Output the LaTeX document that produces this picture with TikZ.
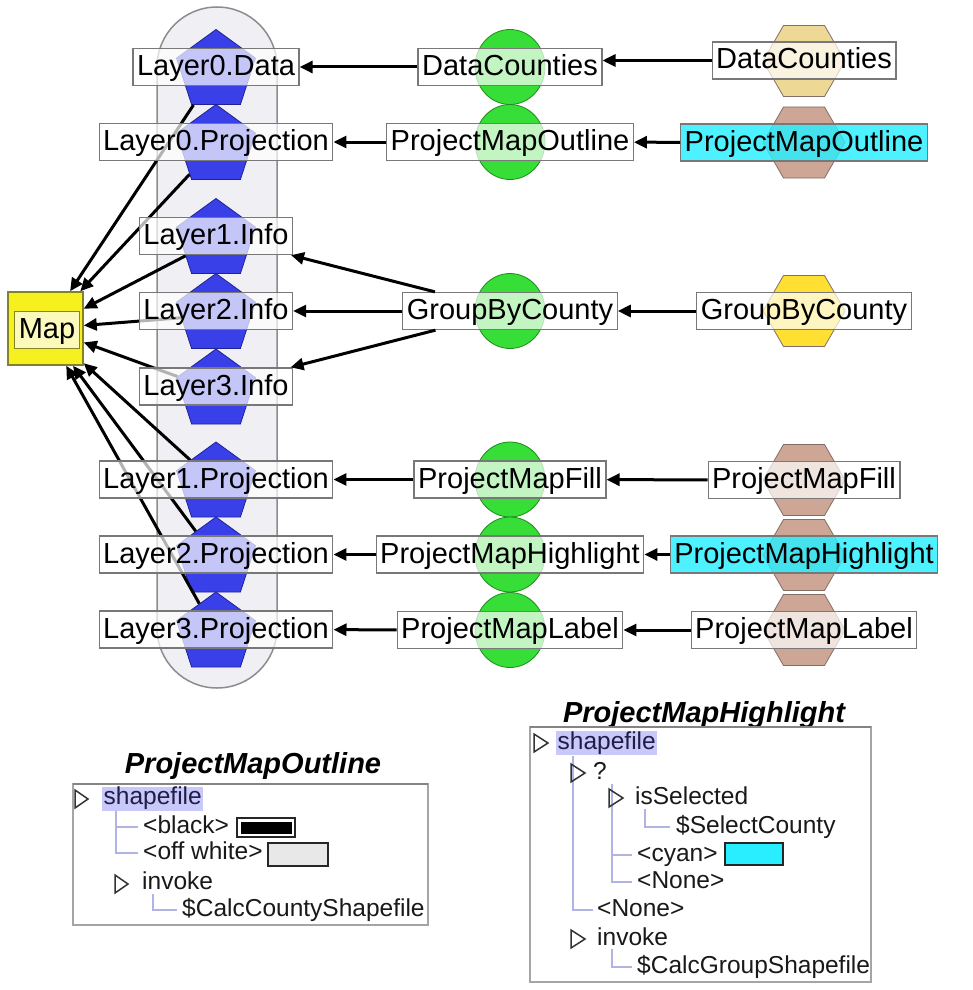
\documentclass[tikz,border=0pt]{standalone}
\usepackage{fontspec}
\setmainfont{Liberation Sans}
\usetikzlibrary{shapes.geometric,arrows.meta}
\definecolor{pblue}{RGB}{58,64,232}
\definecolor{pbluedk}{RGB}{30,34,150}
\definecolor{cgreen}{RGB}{55,222,55}
\definecolor{cgreendk}{RGB}{30,140,30}
\definecolor{hkhaki}{RGB}{238,216,150}
\definecolor{hrosy}{RGB}{206,166,150}
\definecolor{hgold}{RGB}{255,224,50}
\definecolor{hdraw}{RGB}{130,110,100}
\definecolor{cyanbox}{RGB}{40,238,255}
\definecolor{mapyel}{RGB}{246,240,30}
\definecolor{mapdk}{RGB}{130,130,40}
\definecolor{capfill}{RGB}{240,240,244}
\definecolor{capdraw}{RGB}{140,140,140}
\definecolor{boxdraw}{RGB}{120,120,120}
\definecolor{treeline}{RGB}{176,180,228}
\definecolor{hilite}{RGB}{200,200,250}
\definecolor{navytxt}{RGB}{30,30,70}
\definecolor{offwhite}{RGB}{232,232,232}
\definecolor{panelbd}{RGB}{165,165,165}
\newcommand\lblfont{\fontsize{29}{32}\selectfont}
\newcommand\pnlfont{\fontsize{24.5}{26}\selectfont}
\newcommand\ttlfont{\fontsize{29}{31}\selectfont\bfseries\itshape}
\begin{document}
\begin{tikzpicture}[x=1pt,y=-1pt,
  pent/.style={regular polygon, regular polygon sides=5, minimum size=83pt, inner sep=0pt, fill=pblue, draw=pbluedk, line width=0.8pt},
  hexa/.style={regular polygon, regular polygon sides=6, minimum size=82pt, inner sep=0pt, draw=hdraw, line width=0.8pt},
  circ/.style={ellipse, minimum width=70pt, minimum height=75pt, inner sep=0pt, fill=cgreen, draw=cgreendk, line width=0.8pt},
  lbl/.style={draw=boxdraw, line width=1.3pt, fill=white, fill opacity=0.7, text opacity=1, inner xsep=4pt, inner ysep=3pt, text height=24pt, text depth=7pt, font=\lblfont},
  cylbl/.style={lbl, fill=cyanbox, fill opacity=0.82},
  arr/.style={line width=3pt, -{Triangle[length=13pt,width=12pt]}},
  ptxt/.style={anchor=west, inner sep=0pt, text height=17pt, text depth=5pt, font=\pnlfont, text=black!90},
  tri/.style={draw=black!80, line width=1.5pt, line join=miter},
  tree/.style={draw=treeline, line width=1.2pt},
  swatch/.style={draw=black!85, line width=1.5pt}
]
\useasboundingbox (0,0) rectangle (972,990);
\fill[white] (0,0) rectangle (972,990);

% capsule
\draw[fill=capfill, draw=capdraw, line width=1.5pt, rounded corners=60pt] (157,7) rectangle (277,688);

% pentagons
\node[pent] (p0) at (216,71) {};
\node[pent] (p1) at (216,146) {};
\node[pent] (p2) at (216,240) {};
\node[pent] (p3) at (216,315) {};
\node[pent] (p4) at (216,390.5) {};
\node[pent] (p5) at (216,483.5) {};
\node[pent] (p6) at (216,558.5) {};
\node[pent] (p7) at (216,633.5) {};

% green circles
\node[circ] (c0) at (510,67) {};
\node[circ] (c1) at (510,142) {};
\node[circ] (c3) at (510,311) {};
\node[circ] (c5) at (510,479.5) {};
\node[circ] (c6) at (510,554.5) {};
\node[circ] (c7) at (510,630) {};

% hexagons
\node[hexa, fill=hkhaki] (h0) at (804,61) {};
\node[hexa, fill=hrosy] (h1) at (804,142.5) {};
\node[hexa, fill=hgold] (h3) at (804,311) {};
\node[hexa, fill=hrosy] (h5) at (804,480) {};
\node[hexa, fill=hrosy] (h6) at (804,555) {};
\node[hexa, fill=hrosy] (h7) at (804,630) {};

% map square
\node[rectangle, minimum width=75pt, minimum height=73pt, fill=mapyel, draw=mapdk, line width=1.5pt] (mapsq) at (45.5,328.5) {};

% edges into Map
\foreach \p in {p0,p1,p2,p3,p4,p5,p6,p7}
  \draw[arr] (\p) -- (mapsq);

% labels
\node[lbl, draw=mapdk] (map) at (47,330) {Map};
\node[lbl] (l0) at (216,67) {Layer0.Data};
\node[lbl] (l1) at (216,142) {Layer0.Projection};
\node[lbl] (l2) at (216,236) {Layer1.Info};
\node[lbl] (l3) at (216,311) {Layer2.Info};
\node[lbl] (l4) at (216,386.5) {Layer3.Info};
\node[lbl] (l5) at (216,479.5) {Layer1.Projection};
\node[lbl] (l6) at (216,554.5) {Layer2.Projection};
\node[lbl] (l7) at (216,629.5) {Layer3.Projection};

\node[lbl] (m0) at (510,67) {DataCounties};
\node[lbl] (m1) at (510,142) {ProjectMapOutline};
\node[lbl] (m3) at (510,311) {GroupByCounty};
\node[lbl] (m5) at (510,479.5) {ProjectMapFill};
\node[lbl] (m6) at (510,554.5) {ProjectMapHighlight};
\node[lbl] (m7) at (510,630) {ProjectMapLabel};

\node[lbl] (r0) at (804,60.5) {DataCounties};
\node[cylbl] (r1) at (804,142.5) {ProjectMapOutline};
\node[lbl] (r3) at (804,311) {GroupByCounty};
\node[lbl] (r5) at (804,480) {ProjectMapFill};
\node[cylbl] (r6) at (804,554.5) {ProjectMapHighlight};
\node[lbl] (r7) at (804,630) {ProjectMapLabel};

% row arrows
\draw[arr] (m0) -- (l0);
\draw[arr] (m1) -- (l1);
\draw[arr] (m3) -- (l2);
\draw[arr] (m3) -- (l3);
\draw[arr] (m3) -- (l4);
\draw[arr] (m5) -- (l5);
\draw[arr] (m6) -- (l6);
\draw[arr] (m7) -- (l7);
\draw[arr] (r0.west) -- (m0.east |- r0.west);
\draw[arr] (r1) -- (m1);
\draw[arr] (r3) -- (m3);
\draw[arr] (r5) -- (m5);
\draw[arr] (r6) -- (m6);
\draw[arr] (r7) -- (m7);

% ---------- left panel ----------
\node[anchor=base, inner sep=0pt, font=\ttlfont] (t1) at (253,773) {ProjectMapOutline};
\draw[draw=panelbd, line width=1.3pt, fill=white] (73,784) rectangle (428,925);
\draw[panelbd!80!black, line width=2pt] (73,784) -- (428,784);
\draw[tri] (75,790) -- (88,799) -- (75,808) -- cycle;
\node[ptxt, fill=hilite, inner xsep=1.5pt, inner ysep=1pt, text=navytxt] (a1) at (102,798.5) {shapefile};
\draw[tree] (116,811) -- (116,853) -- (138,853);
\draw[tree] (116,827) -- (138,827);
\node[ptxt] (a2) at (143,827) {<black>};
\draw[swatch, fill=white] (237,818) rectangle (295,837);
\fill[black] (240.5,821.5) rectangle (291.5,833.5);
\node[ptxt] (a3) at (143,853) {<off white>};
\draw[swatch, fill=offwhite] (268,843) rectangle (328,866);
\draw[tri] (115,875) -- (128,884) -- (115,893) -- cycle;
\node[ptxt] (a4) at (142,883) {invoke};
\draw[tree] (153,894) -- (153,910) -- (177,910);
\node[ptxt] (a5) at (182,910) {\$CalcCountyShapefile};

% ---------- right panel ----------
\node[anchor=base, inner sep=0pt, font=\ttlfont] (t2) at (704,722) {ProjectMapHighlight};
\draw[draw=panelbd, line width=1.3pt, fill=white] (530,727) rectangle (871,982);
\draw[panelbd!80!black, line width=2pt] (530,727) -- (871,727);
\draw[tri] (534,734) -- (548,743) -- (534,752) -- cycle;
\node[ptxt, fill=hilite, inner xsep=1.5pt, inner ysep=1pt, text=navytxt] (b1) at (556,743) {shapefile};
\draw[tree] (573,756) -- (573,910) -- (593,910);
\draw[tri] (571,764) -- (585,773) -- (571,782) -- cycle;
\node[ptxt] (b2) at (593,773) {?};
\draw[tree] (612,784) -- (612,882) -- (632,882);
\draw[tree] (612,855) -- (632,855);
\draw[tri] (609,789) -- (623,798) -- (609,807) -- cycle;
\node[ptxt] (b3) at (635,798) {isSelected};
\draw[tree] (645,809) -- (645,827) -- (670,827);
\node[ptxt] (b4) at (676,827) {\$SelectCounty};
\node[ptxt] (b5) at (637,855) {<cyan>};
\draw[swatch, fill=cyanbox] (725,843) rectangle (783,865);
\node[ptxt] (b6) at (637,882) {<None>};
\node[ptxt] (b7) at (597,910) {<None>};
\draw[tri] (571,930) -- (585,939) -- (571,948) -- cycle;
\node[ptxt] (b8) at (597,939) {invoke};
\draw[tree] (612,949) -- (612,967) -- (632,967);
\node[ptxt] (b9) at (637,967) {\$CalcGroupShapefile};
\end{tikzpicture}
\end{document}
